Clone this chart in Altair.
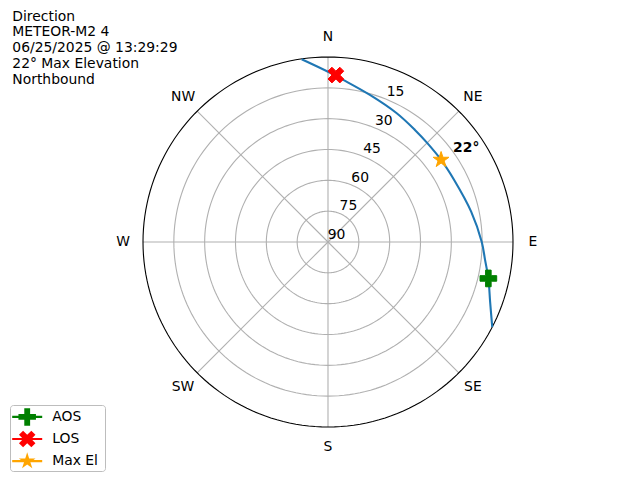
import math
import altair as alt
import pandas as pd

# ---------------- data ----------------
title_lines = ["Direction", "METEOR-M2 4", "06/25/2025 @ 13:29:29", "22° Max Elevation", "Northbound"]

track_az = [117.4, 110.3, 102.8, 96.5, 90.0, 78.0, 63.8, 54.0, 45.0, 37.8, 28.1, 15.9, 5.4, 0.0, -8.2]
track_el = [0.0, 5.9, 10.0, 13.1, 15.2, 18.8, 21.6, 22.0, 21.8, 21.0, 19.0, 15.6, 10.8, 7.2, 0.2]

marker_names = ["AOS", "LOS", "Max El"]
marker_az = [102.8, 2.7, 54.0]
marker_el = [10.0, 8.7, 22.0]
marker_colors = ["green", "red", "orange"]
max_el_label = "22°"

ring_el = [75, 60, 45, 30, 15]
spoke_az = [0, 45, 90, 135, 180, 225, 270, 315]
dir_labels = ["N", "NE", "E", "SE", "S", "SW", "W", "NW"]
rlabel_el = [90, 75, 60, 45, 30, 15]
rlabel_text = ["90", "75", "60", "45", "30", "15"]

# ---------------- geometry / style ----------------
K = 185 / 90.0          # px per degree of zenith distance
W, H = 624, 464
CX, CY = 320, 234
xs = alt.Scale(domain=[-CX / K, (W - CX) / K], nice=False, zero=False)
ys = alt.Scale(domain=[-(H - CY) / K, CY / K], nice=False, zero=False)
FONT = "DejaVu Sans"
FS = 13.9


def X(f):
    return alt.X(f, type="quantitative", scale=xs, axis=None)


def Y(f):
    return alt.Y(f, type="quantitative", scale=ys, axis=None)


def path_str(pts):
    # pts in math coords (y up) -> SVG path (y down), consistent winding
    p = [(x, -y) for x, y in pts]
    area = sum(p[i][0] * p[(i + 1) % len(p)][1] - p[(i + 1) % len(p)][0] * p[i][1] for i in range(len(p)))
    if area < 0:
        p = p[::-1]
    return "M" + " L".join(f"{x:.4f},{y:.4f}" for x, y in p) + " Z"


plus = [(-1, -3), (1, -3), (1, -1), (3, -1), (3, 1), (1, 1), (1, 3), (-1, 3), (-1, 1), (-3, 1), (-3, -1), (-1, -1)]
plus = [(a / 3.0, b / 3.0) for a, b in plus]
c45 = math.cos(math.pi / 4)
xshape = [(a * c45 - b * c45, a * c45 + b * c45) for a, b in plus]
star = []
for i in range(10):
    ang = math.radians(90 + i * 36)
    rr = 1.0 if i % 2 == 0 else 0.381966
    star.append((rr * math.cos(ang), rr * math.sin(ang)))

shapes = [plus, xshape, star]
plot_paths = [path_str(s) for s in shapes]


def legend_path(s):
    sc = 1.05
    m = path_str([(a * sc, b * sc) for a, b in s])
    t = 0.125
    left = path_str([(-1.8, -t), (-0.4, -t), (-0.4, t), (-1.8, t)])
    right = path_str([(0.4, -t), (1.8, -t), (1.8, t), (0.4, t)])
    return left + " " + right + " " + m


legend_paths = [legend_path(s) for s in shapes]

polar_x = "(90 - datum.el) * sin(datum.az * PI / 180)"
polar_y = "(90 - datum.el) * cos(datum.az * PI / 180)"

# ---------------- layers ----------------
rings = alt.Chart(pd.DataFrame({"ring": ring_el})).transform_calculate(
    az="sequence(0, 362, 2)"
).transform_flatten(["az"]).transform_calculate(
    el="datum.ring", x=polar_x, y=polar_y
).mark_line(color="#b0b0b0", strokeWidth=1.1).encode(
    x=X("x"), y=Y("y"), detail="ring:N", order="az:Q"
)

outer = alt.Chart(pd.DataFrame({"ring": [0]})).transform_calculate(
    az="sequence(0, 362, 2)"
).transform_flatten(["az"]).transform_calculate(
    el="datum.ring", x=polar_x, y=polar_y
).mark_line(color="black", strokeWidth=1.1).encode(
    x=X("x"), y=Y("y"), detail="ring:N", order="az:Q"
)

spokes = alt.Chart(pd.DataFrame({"az": spoke_az})).transform_calculate(
    x0="0", y0="0",
    x1="90 * sin(datum.az * PI / 180)", y1="90 * cos(datum.az * PI / 180)"
).mark_rule(color="#b0b0b0", strokeWidth=1.1).encode(
    x=X("x0"), y=Y("y0"), x2="x1:Q", y2="y1:Q"
)

dir_text = alt.Chart(pd.DataFrame({"az": spoke_az, "lab": dir_labels})).transform_calculate(
    x="99.7 * sin(datum.az * PI / 180)", y="99.7 * cos(datum.az * PI / 180)"
).mark_text(font=FONT, fontSize=FS, color="black", align="center", baseline="middle").encode(
    x=X("x"), y=Y("y"), text="lab:N"
)

rlabels = alt.Chart(pd.DataFrame({"el": rlabel_el, "lab": rlabel_text, "az": [22.5] * 6})).transform_calculate(
    x=polar_x, y=polar_y
).mark_text(font=FONT, fontSize=FS, color="black", align="center", baseline="middle", dx=8.6, dy=-7.5).encode(
    x=X("x"), y=Y("y"), text="lab:N"
)

track_df = pd.DataFrame({"az": track_az, "el": track_el, "i": list(range(len(track_az)))})
track = alt.Chart(track_df).transform_calculate(x=polar_x, y=polar_y).mark_line(
    color="#1f77b4", strokeWidth=2.1, interpolate="catmull-rom"
).encode(x=X("x"), y=Y("y"), order="i:Q")

mk_df = pd.DataFrame({"name": marker_names, "az": marker_az, "el": marker_el})
marker_layers = []
for nm, pth, col in zip(marker_names, plot_paths, marker_colors):
    marker_layers.append(
        alt.Chart(mk_df).transform_filter(alt.datum.name == nm).transform_calculate(
            x=polar_x, y=polar_y
        ).mark_point(filled=True, size=278, opacity=1, stroke=col, strokeWidth=1, fill=col).encode(
            x=X("x"), y=Y("y"), shape=alt.value(pth)
        )
    )

maxlab = alt.Chart(mk_df).transform_filter(alt.datum.name == "Max El").transform_calculate(
    x=polar_x, y=polar_y, lab=f"'{max_el_label}'"
).mark_text(font=FONT, fontSize=FS, fontWeight="bold", color="black", align="left",
            baseline="middle", dx=12, dy=-12).encode(x=X("x"), y=Y("y"), text="lab:N")

# legend frame: a rounded light-gray box placed through the same x/y scales
FL, FR, FT, FB = 2.5, 97.5, 397.5, 463.5          # frame edges in chart pixels
frame_df = pd.DataFrame({
    "fx": [(FL - CX) / K], "fx2": [(FR - CX) / K],
    "fy": [(CY - FT) / K], "fy2": [(CY - FB) / K],
})
frame = alt.Chart(frame_df).mark_rect(
    filled=False, stroke="#bdbdbd", strokeWidth=1, cornerRadius=3
).encode(x=X("fx"), x2="fx2:Q", y=Y("fy"), y2="fy2:Q")

leg = alt.Legend(
    orient="none", legendX=2.7, legendY=397, title=None, direction="vertical",
    padding=3.4,
    symbolSize=278, symbolOffset=4.6, labelOffset=16.5, rowPadding=4.1,
    labelFont=FONT, labelFontSize=FS, labelColor="black", symbolStrokeWidth=0,
    symbolOpacity=1,
)
legend_layer = alt.Chart(mk_df).transform_filter("false").transform_calculate(
    x=polar_x, y=polar_y
).mark_point(filled=True, opacity=1).encode(
    x=X("x"), y=Y("y"),
    shape=alt.Shape("name:N", scale=alt.Scale(domain=marker_names, range=legend_paths), legend=leg),
    color=alt.Color("name:N", scale=alt.Scale(domain=marker_names, range=marker_colors), legend=leg),
)

title_text = alt.Chart(pd.DataFrame({"t": ["\n".join(title_lines)]})).mark_text(
    font=FONT, fontSize=FS, color="black", align="left", baseline="alphabetic",
    lineBreak="\n", lineHeight=15.8
).encode(x=alt.value(4.3), y=alt.value(12.5), text="t:N")

chart = alt.layer(
    rings, spokes, outer, track, *marker_layers, maxlab, dir_text, rlabels, frame,
    legend_layer, title_text
).properties(
    width=W, height=H, autosize=alt.AutoSizeParams(type="none"), padding=0
).configure_view(stroke=None)

chart.save("out.html", embed_options={"renderer": "svg", "actions": False})
